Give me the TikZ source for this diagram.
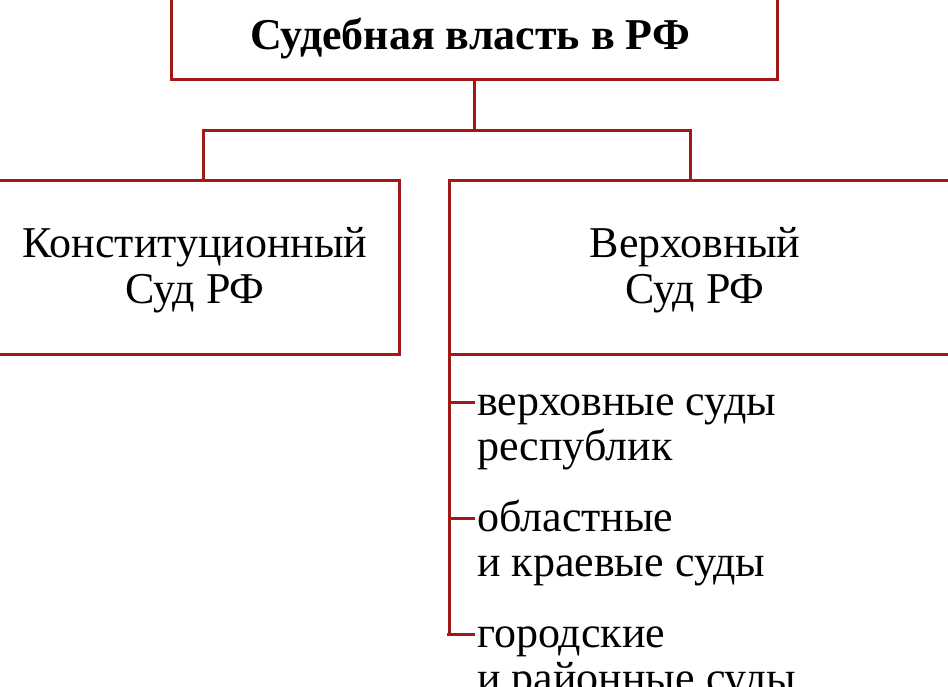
\documentclass[tikz,border=0pt]{standalone}
\usepackage{fontspec}
\setmainfont{Liberation Serif}
\definecolor{ln}{HTML}{A01818}
\begin{document}
\begin{tikzpicture}[x=1pt,y=-1pt,
  bx/.style={draw=ln,line width=3pt},
  ln/.style={draw=ln,line width=3pt},
  txt/.style={font=\fontsize{44}{46}\selectfont,anchor=base,inner sep=0pt},
  lt/.style={font=\fontsize{44}{46}\selectfont,anchor=base west,inner sep=0pt}]
\useasboundingbox (0,0) rectangle (948,687);
\draw[bx] (171,-10) rectangle (777,80);
\node[txt,font=\fontsize{44}{46}\selectfont\bfseries] (top) at (470,50) {Судебная власть в РФ};
\draw[bx] (-10,181) rectangle (399,354);
\node[txt] (ks1) at (195,258) {Конституционный};
\node[txt] (ks2) at (195,303) {Суд РФ};
\draw[bx] (449,181) rectangle (960,354);
\node[txt] (vs1) at (695,258) {Верховный};
\node[txt] (vs2) at (695,303) {Суд РФ};
\coordinate (t) at (474,80);
\coordinate (m) at (474,131);
\draw[ln] (t) -- (m);
\draw[ln] (203,181) -- (203,131) -- (690,131) -- (690,181);
\coordinate (v0) at (449,354);
\coordinate (v1) at (449,636);
\draw[ln] (v0) -- (v1);
\node[lt] (a1) at (477,415) {верховные суды};
\node[lt] (a2) at (477,460) {республик};
\node[lt] (b1) at (477,531) {областные};
\node[lt] (b2) at (477,576) {и краевые суды};
\node[lt] (c1) at (477,647) {городские};
\node[lt] (c2) at (477,692) {и районные суды};
\draw[ln] (449,402) -- (475,402);
\draw[ln] (449,518) -- (475,518);
\draw[ln] (447,634) -- (475,634);
\end{tikzpicture}
\end{document}
